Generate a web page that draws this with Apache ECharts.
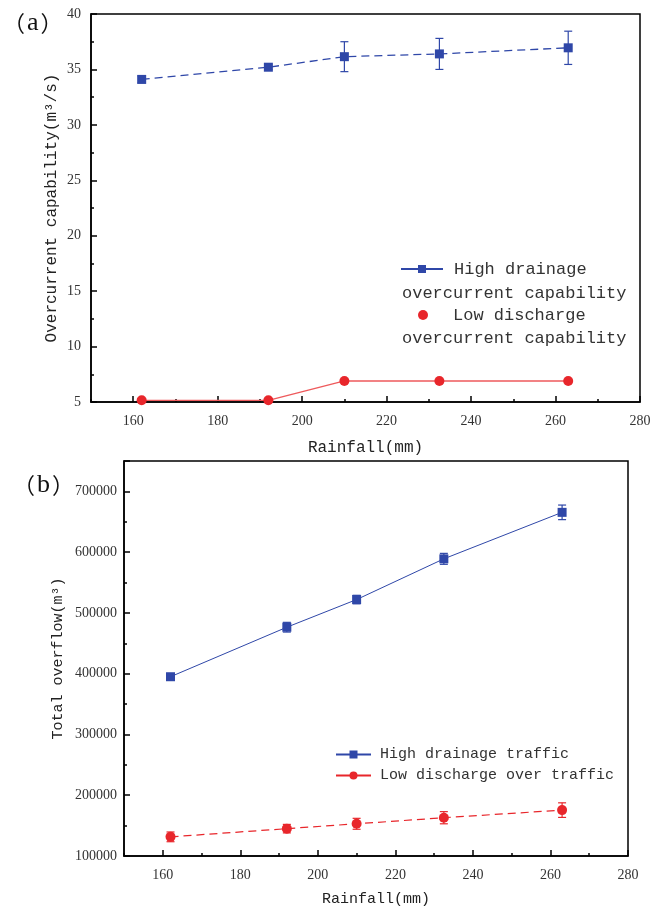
<!DOCTYPE html>
<html><head><meta charset="utf-8">
<script src="https://cdn.jsdelivr.net/npm/echarts@6/dist/echarts.min.js"></script>
<style>html,body{margin:0;padding:0;background:#fff}#c{width:665px;height:908px}</style>
</head><body><div id="c"></div>
<script>
// ---- data ----
const rainfall = [162, 192, 210, 232.5, 263];
const capHigh = [34.1, 35.2, 36.15, 36.4, 36.95];
const capHighErr = [0.3, 0.2, 1.35, 1.4, 1.5];
const capLow = [5.15, 5.15, 6.9, 6.9, 6.9];
const overflowHigh = [395000, 476500, 522000, 589000, 665500];
const overflowHighErr = [3000, 8000, 7000, 9000, 12000];
const overflowLow = [131500, 145000, 153000, 163000, 175500];
const overflowLowErr = [8000, 7000, 9000, 10000, 12000];
const xTickLabels = [160, 180, 200, 220, 240, 260, 280];
const xMinorTicks = [150, 170, 190, 210, 230, 250, 270];
const capTickLabels = [5, 10, 15, 20, 25, 30, 35, 40];
const overflowTickLabels = [100000, 200000, 300000, 400000, 500000, 600000, 700000];

const BLUE = '#2f47a8', RED = '#e8262b';
const SERIF = '"Liberation Serif", "DejaVu Serif", serif';
const MONO = '"Liberation Mono", "DejaVu Sans Mono", monospace';

const pairs = (xs, ys) => xs.map((x, i) => [x, ys[i]]);
const errData = (xs, ys, es) => xs.map((x, i) => [x, ys[i] - es[i], ys[i] + es[i]]);

function errRender(color) {
  return function (params, api) {
    const x = api.value(0);
    const p1 = api.coord([x, api.value(1)]);
    const p2 = api.coord([x, api.value(2)]);
    const w = 4;
    const st = { stroke: color, lineWidth: 1.2 };
    return { type: 'group', children: [
      { type: 'line', shape: { x1: p1[0], y1: p1[1], x2: p2[0], y2: p2[1] }, style: st },
      { type: 'line', shape: { x1: p1[0] - w, y1: p1[1], x2: p1[0] + w, y2: p1[1] }, style: st },
      { type: 'line', shape: { x1: p2[0] - w, y1: p2[1], x2: p2[0] + w, y2: p2[1] }, style: st }
    ]};
  };
}

function xAxes(gridIndex, nameGap, nameSize, labelMargin) {
  return [{
    type: 'value', gridIndex, position: 'bottom', min: 150, max: 280,
    name: 'Rainfall(mm)', nameLocation: 'middle', nameGap,
    nameTextStyle: { fontFamily: MONO, fontSize: nameSize, color: '#222' },
    axisLine: { show: true, lineStyle: { color: '#000', width: 1.5 } },
    axisTick: { show: true, inside: true, length: 6, customValues: xTickLabels, lineStyle: { color: '#000', width: 1.5 } },
    axisLabel: { customValues: xTickLabels, fontFamily: SERIF, fontSize: 14, color: '#333', margin: labelMargin },
    splitLine: { show: false }
  }, {
    type: 'value', gridIndex, position: 'bottom', min: 150, max: 280,
    axisLine: { show: false },
    axisTick: { show: true, inside: true, length: 3, customValues: xMinorTicks, lineStyle: { color: '#000', width: 1.5 } },
    axisLabel: { show: false },
    splitLine: { show: false }
  }];
}

const parenFont = { fontFamily: '"Noto Sans CJK SC", sans-serif', fontSize: 22, fill: '#111' };
const letterFont = { fontFamily: '"Liberation Serif", serif', fontSize: 26, fill: '#111', padding: [0, 2, 0, 2] };

const chart = echarts.init(document.getElementById('c'));
chart.setOption({
  animation: false,
  backgroundColor: '#fff',
  grid: [
    { left: 91, top: 14, width: 549, height: 388, show: true, borderColor: '#000', borderWidth: 1.5, backgroundColor: 'transparent' },
    { left: 124, top: 461, width: 504, height: 396, show: true, borderColor: '#000', borderWidth: 1.5, backgroundColor: 'transparent' }
  ],
  xAxis: [...xAxes(0, 38, 16, 12), ...xAxes(1, 36, 15, 12)],
  yAxis: [{
    type: 'value', gridIndex: 0, min: 5, max: 40, interval: 5,
    name: 'Overcurrent capability(m³/s)', nameLocation: 'middle', nameGap: 31, nameMoveOverlap: false,
    nameTextStyle: { fontFamily: MONO, fontSize: 16, color: '#222' },
    axisLine: { show: true, lineStyle: { color: '#000', width: 1.5 } },
    axisTick: { show: true, inside: true, length: 6, lineStyle: { color: '#000', width: 1.5 } },
    minorTick: { show: true, splitNumber: 2, length: 3, lineStyle: { color: '#000', width: 1.5 } },
    axisLabel: { customValues: capTickLabels, fontFamily: SERIF, fontSize: 14, color: '#333', margin: 10 },
    splitLine: { show: false }
  }, {
    type: 'value', gridIndex: 1, min: 100000, max: 750000, interval: 100000,
    name: 'Total overflow(m³)', nameLocation: 'middle', nameGap: 58, nameMoveOverlap: false,
    nameTextStyle: { fontFamily: MONO, fontSize: 15, color: '#222' },
    axisLine: { show: true, lineStyle: { color: '#000', width: 1.5 } },
    axisTick: { show: true, inside: true, length: 6, lineStyle: { color: '#000', width: 1.5 } },
    minorTick: { show: true, splitNumber: 2, length: 3, lineStyle: { color: '#000', width: 1.5 } },
    axisLabel: { customValues: overflowTickLabels, formatter: v => String(v), fontFamily: SERIF, fontSize: 14, color: '#333', margin: 7 },
    splitLine: { show: false }
  }],
  legend: [{
    orient: 'vertical', left: 400, top: 259, padding: 0, itemWidth: 42, itemHeight: 10,
    textStyle: { fontFamily: MONO, fontSize: 17, color: '#333', lineHeight: 20, padding: [0, 0, 0, 6] },
    data: [{ name: 'High drainage', lineStyle: { type: 'solid' } }]
  }, {
    orient: 'vertical', left: 418, top: 305, padding: 0, itemWidth: 42, itemHeight: 10,
    textStyle: { fontFamily: MONO, fontSize: 17, color: '#333', lineHeight: 20, padding: [0, 0, 0, 4] },
    data: [{ name: 'Low discharge', icon: 'circle', itemStyle: { color: RED } }]
  }, {
    orient: 'vertical', left: 335, top: 746, padding: 0, itemWidth: 35, itemHeight: 10, itemGap: 4,
    textStyle: { fontFamily: MONO, fontSize: 15, color: '#333', lineHeight: 17, padding: [0, 0, 0, 4] },
    data: [
      { name: 'High drainage traffic', lineStyle: { type: 'solid' } },
      { name: 'Low discharge over traffic', lineStyle: { type: 'solid' } }
    ]
  }],
  graphic: [
    { type: 'text', left: 3, top: 10, style: { text: '{p|（}{a|a}{p|）}', rich: { p: parenFont, a: letterFont } } },
    { type: 'text', left: 13, top: 472, style: { text: '{p|（}{a|b}{p|）}', rich: { p: parenFont, a: letterFont } } },
    { type: 'text', left: 402, top: 285, style: { text: 'overcurrent capability', font: '17px "Liberation Mono", monospace', fill: '#333' } },
    { type: 'text', left: 402, top: 330, style: { text: 'overcurrent capability', font: '17px "Liberation Mono", monospace', fill: '#333' } }
  ],
  series: [
    { type: 'custom', xAxisIndex: 0, yAxisIndex: 0, renderItem: errRender(BLUE), data: errData(rainfall, capHigh, capHighErr), z: 1, silent: true },
    { name: 'High drainage', type: 'line', xAxisIndex: 0, yAxisIndex: 0, data: pairs(rainfall, capHigh),
      symbol: 'rect', symbolSize: 9, itemStyle: { color: BLUE },
      lineStyle: { color: BLUE, width: 1.3, type: [8, 5] }, z: 3 },
    { name: 'Low discharge', type: 'line', xAxisIndex: 0, yAxisIndex: 0, data: pairs(rainfall, capLow),
      symbol: 'circle', symbolSize: 10, itemStyle: { color: RED },
      lineStyle: { color: '#ee5a5c', width: 1.4 }, z: 3 },
    { type: 'custom', xAxisIndex: 2, yAxisIndex: 1, renderItem: errRender(BLUE), data: errData(rainfall, overflowHigh, overflowHighErr), z: 1, silent: true },
    { type: 'custom', xAxisIndex: 2, yAxisIndex: 1, renderItem: errRender(RED), data: errData(rainfall, overflowLow, overflowLowErr), z: 1, silent: true },
    { name: 'High drainage traffic', type: 'line', xAxisIndex: 2, yAxisIndex: 1, data: pairs(rainfall, overflowHigh),
      symbol: 'rect', symbolSize: 9, itemStyle: { color: BLUE },
      lineStyle: { color: BLUE, width: 1 }, z: 3 },
    { name: 'Low discharge over traffic', type: 'line', xAxisIndex: 2, yAxisIndex: 1, data: pairs(rainfall, overflowLow),
      symbol: 'circle', symbolSize: 10, itemStyle: { color: RED },
      lineStyle: { color: RED, width: 1.2, type: [8, 5] }, z: 3 }
  ]
});
</script>
</body></html>
